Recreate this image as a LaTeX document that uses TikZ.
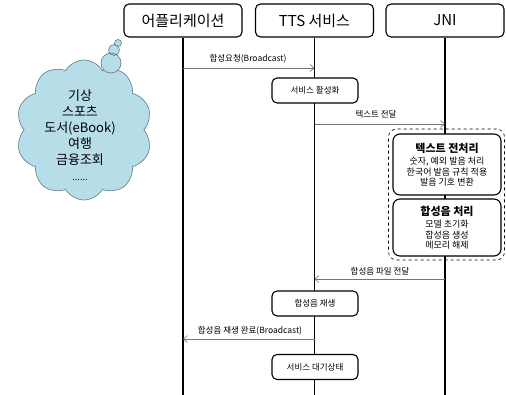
\documentclass[tikz,border=0pt]{standalone}
\usepackage{fontspec}
\setmainfont{Noto Sans CJK KR}
\usetikzlibrary{shapes.symbols,arrows.meta}
\definecolor{cloudfill}{HTML}{B7DDE8}
\definecolor{cloudline}{HTML}{5E7A85}
\newcommand\proctitle[1]{{\fontsize{11}{13}\selectfont\bfseries #1}}
\begin{document}
\begin{tikzpicture}[x=1pt,y=-1pt,
  head/.style={draw,line width=1.1pt,rounded corners=5pt,minimum width=118pt,minimum height=33pt,font=\fontsize{15}{18}\selectfont,inner sep=0pt},
  life/.style={line width=1.4pt},
  act/.style={draw,fill=white,line width=1.1pt,rounded corners=5pt,minimum width=86pt,minimum height=25pt,font=\fontsize{8.5}{10}\selectfont,inner sep=0pt},
  msg/.style={draw=black!55,line width=0.6pt,-{Straight Barb[length=4pt,width=7pt]}},
  lbl/.style={font=\fontsize{8.5}{10}\selectfont,inner sep=0pt},
  proc/.style={draw,fill=white,line width=1.1pt,rounded corners=7pt,minimum width=108pt,align=center,inner sep=0pt,font=\fontsize{9}{10.5}\selectfont},
  bubble/.style={fill=cloudfill},
  bubbleline/.style={draw=cloudline,line width=0.6pt},
]
\useasboundingbox (0,0) rectangle (506,395);

% participants
\node[head] (app) at (183,20.5) {어플리케이션};
\node[head] (tts) at (314.5,20.5) {TTS 서비스};
\node[head] (jni) at (445,20.5) {JNI};

% lifelines
\coordinate (appEnd) at (183,395);
\coordinate (ttsEnd) at (314.5,395);
\coordinate (jniEnd) at (445,395);
\draw[life] (app.south) -- (appEnd);
\draw[life] (tts.south) -- (ttsEnd);
\draw[life] (jni.south) -- (jniEnd);

% thought cloud with example applications
\node[cloud,cloud puffs=10,cloud puff arc=120,cloud ignores aspect,minimum width=136pt,minimum height=140pt,fill=cloudfill,draw=cloudline,line width=0.6pt] (cl) at (84,130) {};
\node[circle,bubble,minimum size=20pt,inner sep=0pt] (b3) at (111,63) {};
\node[circle,bubble,minimum size=11pt,inner sep=0pt] (b2) at (114,50) {};
\node[circle,bubble,minimum size=7pt,inner sep=0pt] (b1) at (118,43) {};
\draw[bubbleline] (b3.center) circle (10pt) (b2.center) circle (5.5pt) (b1.center) circle (3.5pt);
\node[align=center,font=\fontsize{13}{16}\selectfont,inner sep=0pt] (apps) at (80,135)
  {기상\\스포츠\\도서(eBook)\\여행\\금융조회\\{\fontsize{9}{16}\selectfont ......}};

% message anchors
\coordinate (m1a) at (183,68);   \coordinate (m1b) at (314.5,68);
\coordinate (m2a) at (314.5,124); \coordinate (m2b) at (445,124);
\coordinate (m3a) at (445,279);  \coordinate (m3b) at (314.5,279);
\coordinate (m4a) at (314.5,339); \coordinate (m4b) at (183,339);

\draw[msg] (m1a) -- (m1b);
\node[lbl] (l1) at (248,59) {합성요청(Broadcast)};

\node[act] (act1) at (315,90.5) {서비스 활성화};

\draw[msg] (m2a) -- (m2b);
\node[lbl] (l2) at (376,114) {텍스트 전달};

% JNI processing group
\node[draw,dashed,line width=0.6pt,rounded corners=8pt,minimum width=116pt,minimum height=131pt] (grp) at (446.5,194.5) {};
\node[proc,minimum height=61pt] (pre) at (447,164.5)
  {\proctitle{텍스트 전처리}\\[2pt]숫자, 예외 발음 처리\\한국어 발음 규칙 적용\\발음 기호 변환};
\node[proc,minimum height=57pt] (syn) at (447,227.5)
  {\proctitle{합성음 처리}\\[2pt]모델 초기화\\합성음 생성\\메모리 해제};

\draw[msg] (m3a) -- (m3b);
\node[lbl] (l3) at (380,271) {합성음 파일 전달};

\node[act] (act2) at (315,303.5) {합성음 재생};

\draw[msg] (m4a) -- (m4b);
\node[lbl] (l4) at (250,331) {합성음 재생 완료(Broadcast)};

\node[act] (act3) at (315,367) {서비스 대기상태};
\end{tikzpicture}
\end{document}
